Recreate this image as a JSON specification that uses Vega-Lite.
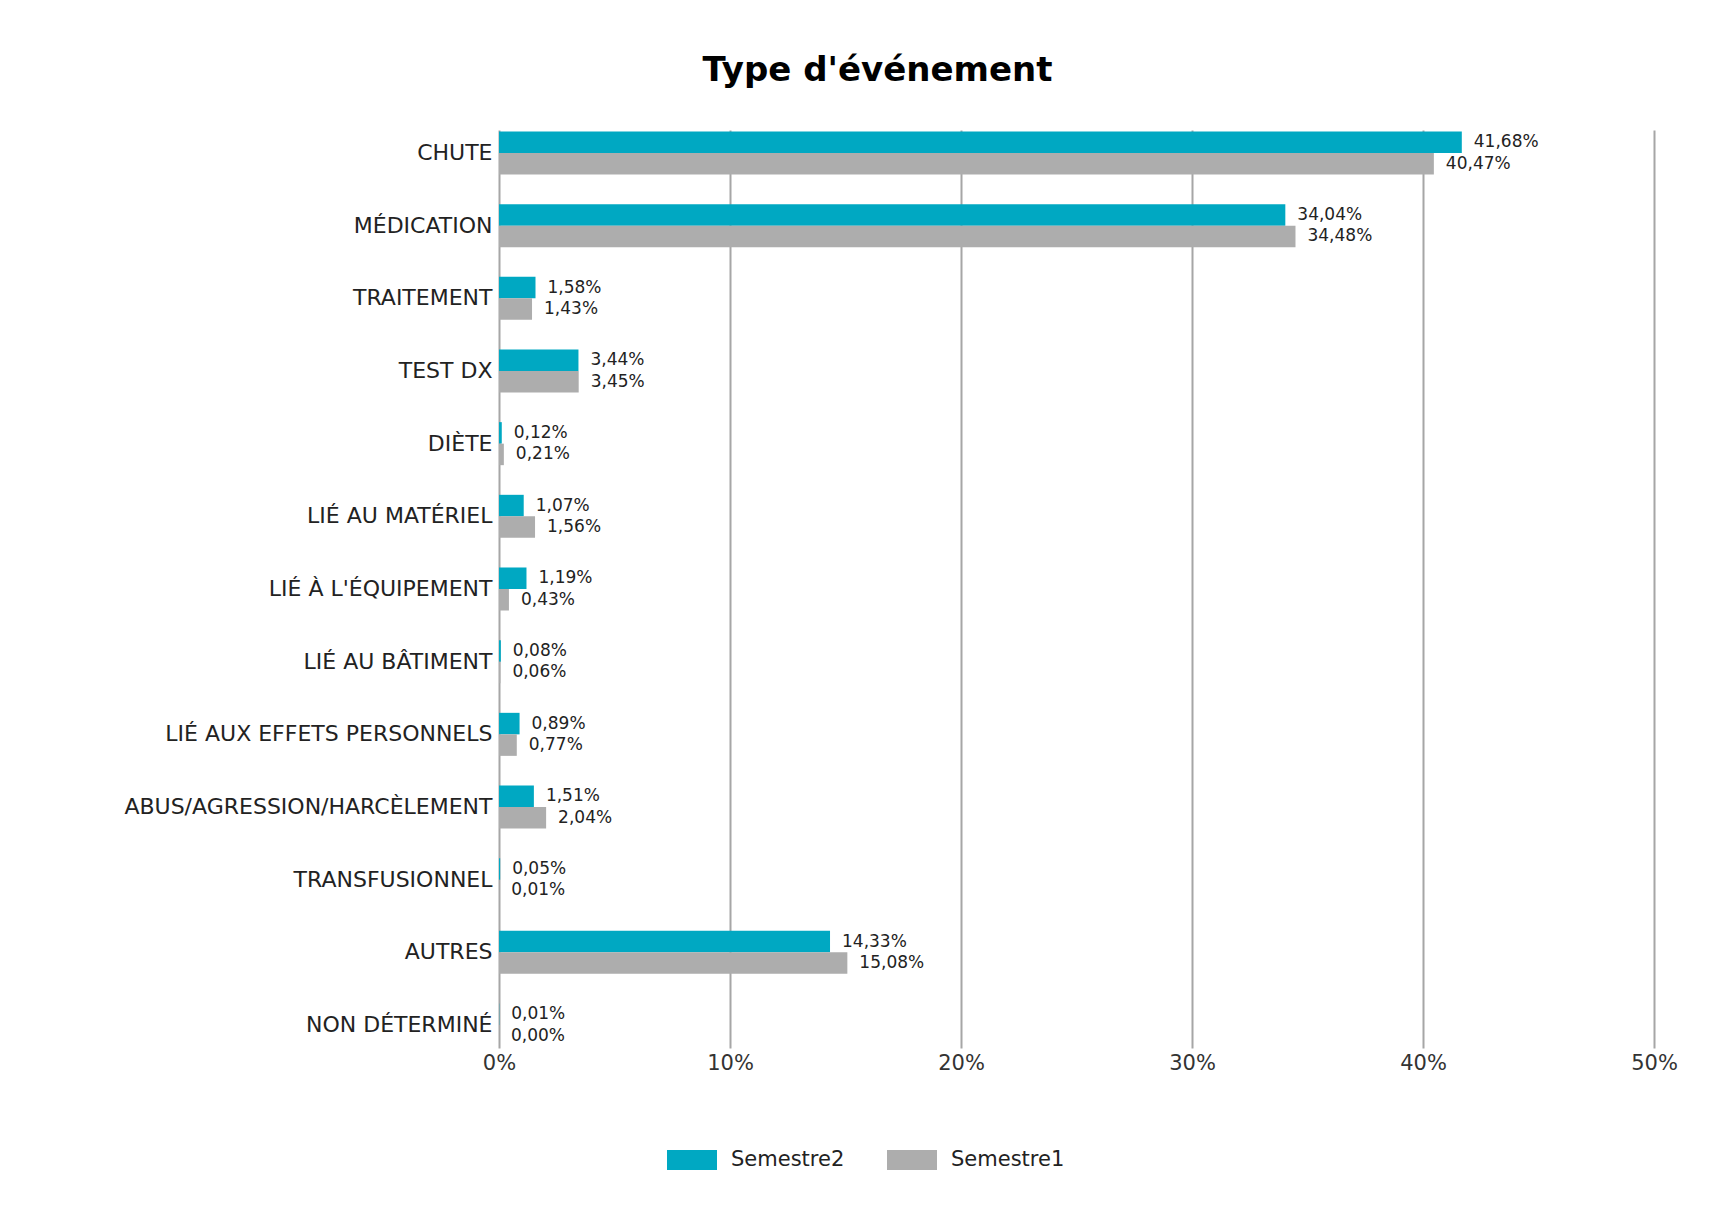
{
  "$schema": "https://vega.github.io/schema/vega-lite/v6.json",
  "width": 1155,
  "height": 918,
  "autosize": {"type": "none"},
  "padding": {"left": 499, "top": 130, "right": 72, "bottom": 173},
  "background": "white",
  "title": {
    "text": "Type d'événement",
    "font": "DejaVu Sans",
    "fontSize": 34,
    "fontWeight": "bold",
    "color": "#000000",
    "anchor": "middle",
    "frame": "group",
    "baseline": "alphabetic",
    "offset": 15,
    "dx": -199
  },
  "data": {
    "values": [
      {"type": "CHUTE", "semestre": "Semestre2", "value": 41.68},
      {"type": "CHUTE", "semestre": "Semestre1", "value": 40.47},
      {"type": "MÉDICATION", "semestre": "Semestre2", "value": 34.04},
      {"type": "MÉDICATION", "semestre": "Semestre1", "value": 34.48},
      {"type": "TRAITEMENT", "semestre": "Semestre2", "value": 1.58},
      {"type": "TRAITEMENT", "semestre": "Semestre1", "value": 1.43},
      {"type": "TEST DX", "semestre": "Semestre2", "value": 3.44},
      {"type": "TEST DX", "semestre": "Semestre1", "value": 3.45},
      {"type": "DIÈTE", "semestre": "Semestre2", "value": 0.12},
      {"type": "DIÈTE", "semestre": "Semestre1", "value": 0.21},
      {"type": "LIÉ AU MATÉRIEL", "semestre": "Semestre2", "value": 1.07},
      {"type": "LIÉ AU MATÉRIEL", "semestre": "Semestre1", "value": 1.56},
      {"type": "LIÉ À L'ÉQUIPEMENT", "semestre": "Semestre2", "value": 1.19},
      {"type": "LIÉ À L'ÉQUIPEMENT", "semestre": "Semestre1", "value": 0.43},
      {"type": "LIÉ AU BÂTIMENT", "semestre": "Semestre2", "value": 0.08},
      {"type": "LIÉ AU BÂTIMENT", "semestre": "Semestre1", "value": 0.06},
      {"type": "LIÉ AUX EFFETS PERSONNELS", "semestre": "Semestre2", "value": 0.89},
      {"type": "LIÉ AUX EFFETS PERSONNELS", "semestre": "Semestre1", "value": 0.77},
      {"type": "ABUS/AGRESSION/HARCÈLEMENT", "semestre": "Semestre2", "value": 1.51},
      {"type": "ABUS/AGRESSION/HARCÈLEMENT", "semestre": "Semestre1", "value": 2.04},
      {"type": "TRANSFUSIONNEL", "semestre": "Semestre2", "value": 0.05},
      {"type": "TRANSFUSIONNEL", "semestre": "Semestre1", "value": 0.01},
      {"type": "AUTRES", "semestre": "Semestre2", "value": 14.33},
      {"type": "AUTRES", "semestre": "Semestre1", "value": 15.08},
      {"type": "NON DÉTERMINÉ", "semestre": "Semestre2", "value": 0.01},
      {"type": "NON DÉTERMINÉ", "semestre": "Semestre1", "value": 0.00}
    ]
  },
  "transform": [
    {"calculate": "replace(format(datum.value, '.2f'), '.', ',') + '%'", "as": "label"}
  ],
  "encoding": {
    "y": {
      "field": "type",
      "type": "nominal",
      "sort": null,
      "title": null,
      "scale": {"paddingInner": 0.408, "paddingOuter": 0.02},
      "axis": {
        "ticks": false,
        "domain": false,
        "grid": false,
        "labelFont": "DejaVu Sans",
        "labelFontSize": 22,
        "labelColor": "#222222",
        "labelPadding": 7,
        "labelLimit": 0
      }
    },
    "yOffset": {
      "field": "semestre",
      "type": "nominal",
      "sort": ["Semestre2", "Semestre1"],
      "scale": {"paddingInner": 0, "paddingOuter": 0}
    },
    "x": {
      "field": "value",
      "type": "quantitative",
      "title": null,
      "scale": {"domain": [0, 50], "nice": false},
      "axis": {
        "values": [0, 10, 20, 30, 40, 50],
        "labelExpr": "datum.value + '%'",
        "ticks": false,
        "domain": false,
        "grid": true,
        "gridColor": "#A6A6A6",
        "gridWidth": 2,
        "labelFont": "DejaVu Sans",
        "labelFontSize": 21,
        "labelColor": "#333333",
        "labelPadding": 4,
        "labelFlush": false
      }
    }
  },
  "layer": [
    {
      "mark": {"type": "bar"},
      "encoding": {
        "color": {
          "field": "semestre",
          "type": "nominal",
          "scale": {"domain": ["Semestre2", "Semestre1"], "range": ["#00A8C2", "#ADADAD"]},
          "legend": {
            "title": null,
            "orient": "none",
            "direction": "horizontal",
            "legendX": 168,
            "legendY": 1005,
            "symbolType": "M-1,-0.4H1V0.4H-1Z",
            "symbolSize": 2500,
            "symbolStrokeWidth": 0,
            "labelFont": "DejaVu Sans",
            "labelFontSize": 21,
            "labelColor": "#222222",
            "labelOffset": 14,
            "columnPadding": 42,
            "padding": 0
          }
        }
      }
    },
    {
      "mark": {
        "type": "text",
        "align": "left",
        "baseline": "middle",
        "dx": 12,
        "font": "DejaVu Sans",
        "fontSize": 17,
        "color": "#222222"
      },
      "encoding": {
        "text": {"field": "label", "type": "nominal"}
      }
    }
  ],
  "config": {
    "view": {"stroke": null}
  }
}
